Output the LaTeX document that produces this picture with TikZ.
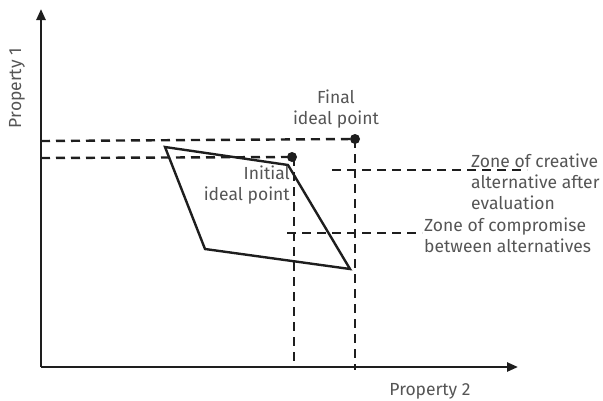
\documentclass[tikz,border=0pt]{standalone}
\usepackage{fontspec}
\setmainfont{Fira Sans}
\usetikzlibrary{arrows.meta}
\definecolor{txt}{HTML}{555555}
\definecolor{ink}{HTML}{1E1E1E}
\begin{document}
\begin{tikzpicture}[x=1pt,y=-1pt,
  axis/.style={draw=ink,line width=2.4pt,-{Triangle[length=11pt,width=9pt]}},
  guide/.style={draw=ink,line width=2.4pt,dash pattern=on 9pt off 6pt},
  outline/.style={draw=ink,line width=2.4pt,line join=miter},
  dot/.style={circle,fill=ink,inner sep=0pt,minimum size=10pt},
  lbl/.style={text=txt,font=\fontsize{17.5}{21}\selectfont,inner sep=0pt}]
\useasboundingbox (0,0) rectangle (603,400);
% axes
\coordinate (ytop) at (41,9);
\coordinate (orig) at (41,367);
\coordinate (xend) at (518,367);
\draw[axis] (orig) -- (ytop);
\draw[axis] (orig) -- (xend);
% ideal points
\node[dot] (F) at (355,139) {};
\node[dot] (I) at (292,157) {};
\coordinate (Fy) at (41,141);
\coordinate (Iy) at (41,158);
\coordinate (Fx) at (355,370);
\coordinate (Ix) at (294,367);
\coordinate (Itop) at (294,157);
\draw[guide] (Fy) -- (F.center);
\draw[guide] (Iy) -- (I.center);
\draw[guide] (F.center) -- (Fx);
\draw[guide] (Itop) -- (Ix);
% zone lines
\coordinate (c1) at (332,170);
\coordinate (c2) at (527,170);
\coordinate (z1) at (287,233);
\coordinate (z2) at (422,233);
\draw[guide] (c1) -- (c2);
\draw[guide] (z1) -- (z2);
% parallelogram
\coordinate (pa) at (165,147);
\coordinate (pb) at (288,165);
\coordinate (pc) at (350,269);
\coordinate (pd) at (205,249);
\draw[outline] (pa) -- (pb) -- (pc) -- (pd) -- cycle;
% labels
\node[lbl,rotate=90] (p1) at (17,88) {Property 1};
\node[lbl] (p2) at (430,391) {Property 2};
\node[lbl,align=center] (fin) at (336,109) {Final\\ideal point};
\node[lbl,align=right,anchor=east] (ini) at (290,185) {Initial\\ideal point};
\node[lbl,align=left,anchor=west] (zc) at (471,182) {Zone of creative\\alternative after\\evaluation};
\node[lbl,align=left,anchor=west] (zp) at (424,235) {Zone of compromise\\between alternatives};
\end{tikzpicture}
\end{document}
